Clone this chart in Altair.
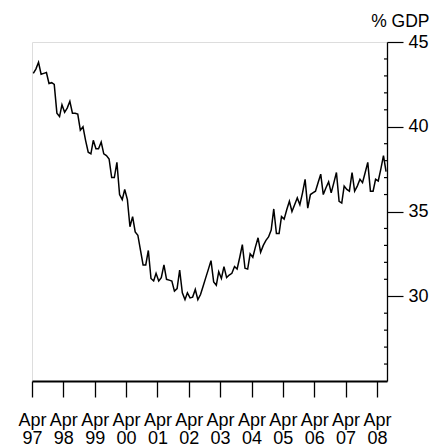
import altair as alt
import pandas as pd

# Monthly values, Apr 1997 .. Jul 2008 (% of GDP)
values = [
    43.15, 43.4, 43.8, 43.1, 43.15, 43.2, 42.55, 42.6, 42.5, 40.8, 40.6, 41.3,
    40.85, 41.1, 41.5, 40.8, 40.8, 40.75, 39.8, 40.0, 39.2, 38.5, 38.4, 39.2,
    38.7, 38.7, 39.1, 38.4, 38.3, 38.1, 37.0, 37.0, 37.9, 36.0, 35.7, 36.3,
    35.7, 34.1, 34.7, 33.8, 33.6, 32.7, 31.85, 31.85, 32.7, 31.05, 30.9, 31.35,
    30.9, 31.1, 31.85, 31.0, 30.95, 30.9, 30.3, 30.45, 31.55, 30.2, 29.8, 30.2,
    29.9, 29.95, 30.4, 29.8, 30.1, 30.6, 31.1, 31.6, 32.1, 30.85, 30.65, 31.45,
    31.05, 31.75, 31.1, 31.25, 31.35, 31.75, 31.6, 32.3, 33.05, 31.65, 31.6, 32.5,
    32.3, 32.9, 33.45, 32.6, 33.0, 33.3, 33.5, 33.9, 35.15, 33.7, 33.7, 34.7,
    34.55, 35.1, 35.6, 35.0, 35.4, 35.8, 35.4, 36.1, 36.9, 35.2, 36.0, 36.1,
    36.2, 36.7, 37.2, 36.0, 36.4, 36.75, 36.1, 36.7, 37.3, 35.6, 35.5, 36.5,
    36.3, 36.2, 37.3, 36.2, 36.5, 36.9, 36.7, 37.3, 37.9, 36.2, 36.2, 36.9,
    36.8, 37.5, 38.3, 37.35,
]
dates = []
y, mo = 1997, 4
for _ in values:
    dates.append(f"{y:04d}-{mo:02d}-16")
    mo += 1
    if mo > 12:
        mo = 1
        y += 1

tick_years = list(range(1997, 2009))
major_ticks = [30, 35, 40, 45]
minor_ticks = [v for v in range(26, 45) if v not in major_ticks]

df = pd.DataFrame({"date": dates, "value": values})
minor_df = pd.DataFrame({"v": minor_ticks})

FONT = "Liberation Sans"
W, H = 355, 339

x_scale = alt.Scale(
    type="utc",
    domain=[alt.DateTime(year=1997, month=4, date=1, utc=True),
            alt.DateTime(year=2008, month=7, date=27, utc=True)],
)
y_scale = alt.Scale(domain=[25, 45], nice=False, zero=False)

line = alt.Chart(df).mark_line(color="black", strokeWidth=1.5).encode(
    x=alt.X("date:T", scale=x_scale, title=None,
            axis=alt.Axis(
                values=[alt.DateTime(year=yy, month=4, date=1, utc=True) for yy in tick_years],
                labelExpr="['Apr', utcFormat(datum.value, '%y')]",
                tickSize=16, tickWidth=1.3, tickColor="black",
                domainWidth=2, domainColor="black",
                labelFont=FONT, labelFontSize=18, labelColor="black",
                labelBaseline="alphabetic", labelPadding=28, labelLineHeight=18.3,
                labelAngle=0, labelAlign="center", labelOverlap=False,
                labelFlush=False, grid=False,
            )),
    y=alt.Y("value:Q", scale=y_scale, title="% GDP",
            axis=alt.Axis(
                orient="right", values=major_ticks,
                tickSize=16, tickWidth=1.2, tickColor="black",
                domainWidth=1.3, domainColor="black",
                labelFont=FONT, labelFontSize=18, labelColor="black",
                labelPadding=5, labelFlush=False,
                titleFont=FONT, titleFontSize=17.5, titleFontWeight="normal",
                titleColor="black", titleAngle=0, titleAlign="right",
                titleBaseline="alphabetic", titleX=42, titleY=-16,
                grid=False,
            )),
)

minor = alt.Chart(minor_df).mark_rule(color="black", strokeWidth=1.2).encode(
    y=alt.Y("v:Q", scale=y_scale),
    x=alt.value(W - 3),
    x2=alt.value(W),
)

chart = alt.layer(line, minor).properties(
    width=W, height=H,
    autosize=alt.AutoSizeParams(type="none"),
    padding={"left": 24, "top": 34, "right": 51, "bottom": 67},
).configure_view(strokeWidth=0, stroke="transparent").configure(background="white")

chart.save("out.html", embed_options={"renderer": "svg", "actions": False})
